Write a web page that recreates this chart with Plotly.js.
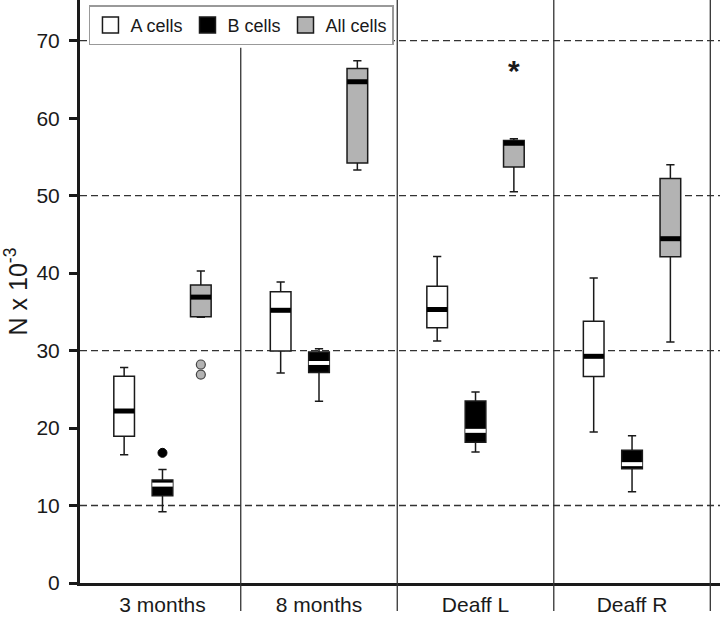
<!DOCTYPE html>
<html>
<head>
<meta charset="utf-8">
<script src="https://cdn.plot.ly/plotly-3.0.1.min.js"></script>
<style>html,body{margin:0;padding:0;background:#fff;}#chart{width:720px;height:618px;}</style>
</head>
<body>
<div id="chart"></div>
<script>
// ---- data ----
const CATEGORIES = ['3 months', '8 months', 'Deaff L', 'Deaff R'];

const A_LOW    = [16.55, 27.1, 31.24, 19.5];
const A_Q1     = [18.95, 29.95, 32.96, 26.64];
const A_MEDIAN = [22.2, 35.2, 35.3, 29.26];
const A_Q3     = [26.7, 37.6, 38.3, 33.8];
const A_HIGH   = [27.8, 38.85, 42.15, 39.36];

const B_LOW    = [9.2, 23.46, 16.9, 11.77];
const B_Q1     = [11.26, 27.16, 18.18, 14.74];
const B_MEDIAN = [12.7, 28.4, 19.64, 15.34];
const B_Q3     = [13.28, 29.8, 23.5, 17.15];
const B_HIGH   = [14.65, 30.25, 24.66, 19.0];

const ALL_LOW    = [34.3, 53.3, 50.5, 31.1];
const ALL_Q1     = [34.38, 54.2, 53.7, 42.1];
const ALL_MEDIAN = [36.9, 64.7, 56.76, 44.44];
const ALL_Q3     = [38.46, 66.4, 57.1, 52.2];
const ALL_HIGH   = [40.26, 67.4, 57.33, 54.0];

// outliers: group index + value
const B_OUT_GROUP = [0];
const B_OUT_VALUE = [16.8];
const ALL_OUT_GROUP = [0, 0];
const ALL_OUT_VALUE = [28.2, 26.9];
const ALL_EXTREME_GROUP = [2];
const ALL_EXTREME_VALUE = [66.6];

const GRID_VALUES = [10, 30, 50, 70];
const Y_TICKS = [0, 10, 20, 30, 40, 50, 60, 70];

const SERIES_NAMES = ['A cells', 'B cells', 'All cells'];

// ---- styling ----
const FONT = 'Liberation Sans, Arial, Helvetica, sans-serif';
const INK = '#1a1a1a';
const GRAY = '#b3b3b3';
const OFFSET = 0.245;     // box offset within a group (category units)
const BOX_W = 0.132;      // box width (category units)

const idx = CATEGORIES.map((_, i) => i);

function boxTrace(offset, low, q1, med, q3, high, fill) {
  return {
    type: 'box',
    x: idx.map(i => i + offset),
    lowerfence: low, q1: q1, median: med, q3: q3, upperfence: high,
    boxpoints: false,
    width: BOX_W,
    whiskerwidth: 0.4,
    fillcolor: fill,
    line: {color: INK, width: 1.5},
    showlegend: false,
    hoverinfo: 'skip'
  };
}
function medianTrace(offset, med, color, w) {
  return {
    type: 'scatter', mode: 'markers',
    x: idx.map(i => i + offset), y: med,
    marker: {symbol: 'line-ew-open', size: 14.6, color: color, line: {color: color, width: w}},
    showlegend: false, hoverinfo: 'skip'
  };
}
function legendTrace(name, fill) {
  return {
    type: 'scatter', mode: 'markers', x: [null], y: [null], name: name,
    marker: {symbol: 'square', size: 16, color: fill, line: {color: INK, width: 1.5}},
    showlegend: true
  };
}

const traces = [
  boxTrace(-OFFSET, A_LOW, A_Q1, A_MEDIAN, A_Q3, A_HIGH, '#ffffff'),
  boxTrace(0, B_LOW, B_Q1, B_MEDIAN, B_Q3, B_HIGH, '#000000'),
  boxTrace(OFFSET, ALL_LOW, ALL_Q1, ALL_MEDIAN, ALL_Q3, ALL_HIGH, GRAY),
  medianTrace(-OFFSET, A_MEDIAN, '#000000', 5),
  medianTrace(0, B_MEDIAN, '#ffffff', 4),
  medianTrace(OFFSET, ALL_MEDIAN, '#000000', 5),
  {
    type: 'scatter', mode: 'markers',
    x: B_OUT_GROUP.map(g => g), y: B_OUT_VALUE,
    marker: {symbol: 'circle', size: 9, color: '#000000', line: {color: '#000', width: 1}},
    showlegend: false, hoverinfo: 'skip'
  },
  {
    type: 'scatter', mode: 'markers',
    x: ALL_OUT_GROUP.map(g => g + OFFSET), y: ALL_OUT_VALUE,
    marker: {symbol: 'circle', size: 9, color: GRAY, line: {color: '#444', width: 1.2}},
    showlegend: false, hoverinfo: 'skip'
  },
  legendTrace(SERIES_NAMES[0], '#ffffff'),
  legendTrace(SERIES_NAMES[1], '#000000'),
  legendTrace(SERIES_NAMES[2], GRAY)
];

// extreme value marked with an asterisk
const annotations = ALL_EXTREME_GROUP.map((g, k) => ({
  xref: 'x', yref: 'y', x: g + OFFSET, y: ALL_EXTREME_VALUE[k],
  text: '<b>*</b>', showarrow: false, yshift: -3,
  font: {family: FONT, size: 30, color: INK}
}));

const shapes = [];
GRID_VALUES.forEach(v => shapes.push({
  type: 'line', xref: 'paper', x0: 0, x1: 1, yref: 'y', y0: v, y1: v,
  line: {color: '#333', width: 1.3, dash: '7px,4px'}, layer: 'below'
}));
idx.forEach(i => shapes.push({
  type: 'line', xref: 'x', x0: i + 0.5, x1: i + 0.5, yref: 'paper',
  y0: -0.048, y1: i === 0 ? 0.918 : 1,
  line: {color: '#333', width: 1.3}, layer: 'above'
}));

const layout = {
  width: 720, height: 618,
  margin: {l: 80, r: 0, t: 0, b: 35},
  paper_bgcolor: '#ffffff', plot_bgcolor: '#ffffff',
  font: {family: FONT, color: INK},
  boxmode: 'overlay',
  xaxis: {
    range: [-0.527, 3.562],
    tickmode: 'array', tickvals: idx, ticktext: CATEGORIES,
    tickfont: {family: FONT, size: 21, color: INK},
    ticks: '', showgrid: false, zeroline: false,
    showline: true, linewidth: 3, linecolor: INK,
    ticklabelstandoff: 1
  },
  yaxis: {
    range: [0, 75.25],
    tickmode: 'array', tickvals: Y_TICKS,
    tickfont: {family: FONT, size: 21, color: INK},
    ticks: 'outside', ticklen: 8, tickwidth: 3, tickcolor: INK,
    showgrid: false, zeroline: false,
    showline: true, linewidth: 3, linecolor: INK,
    ticklabelstandoff: 5,
    title: {text: 'N x 10<sup>-3</sup>', font: {family: FONT, size: 25, color: INK}, standoff: 8}
  },
  legend: {
    orientation: 'h', x: 0.014, y: 0.991, xanchor: 'left', yanchor: 'top',
    bgcolor: '#ffffff', bordercolor: '#999999', borderwidth: 1.5,
    font: {family: FONT, size: 18, color: INK},
    itemclick: false, itemdoubleclick: false
  },
  annotations: annotations,
  shapes: shapes,
  showlegend: true
};

Plotly.newPlot('chart', traces, layout, {displayModeBar: false, staticPlot: true});
</script>
</body>
</html>
